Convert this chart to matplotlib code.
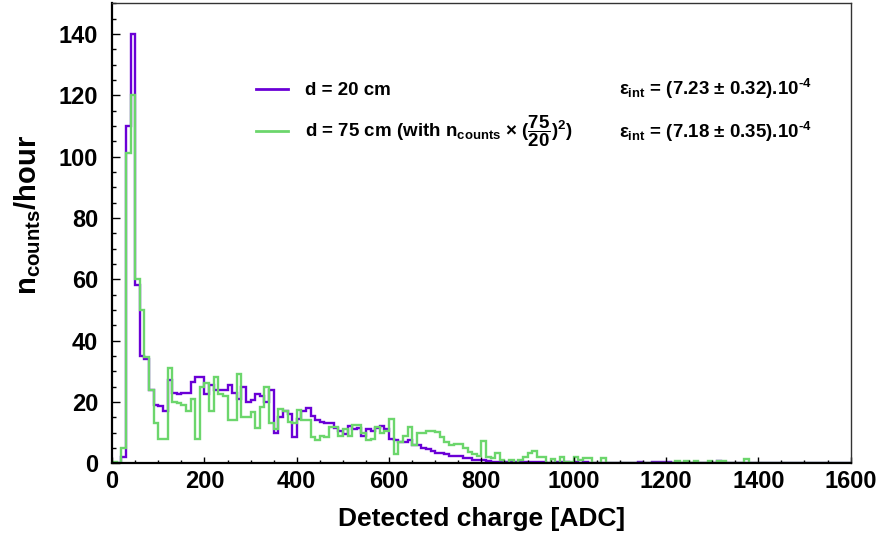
import numpy as np
import matplotlib
matplotlib.use("Agg")
import matplotlib.pyplot as plt
from matplotlib.lines import Line2D
from matplotlib.ticker import MultipleLocator

plt.rcParams['font.family'] = ['Liberation Sans', 'DejaVu Sans']
plt.rcParams['font.weight'] = 'bold'
plt.rcParams['mathtext.fontset'] = 'custom'
plt.rcParams['mathtext.rm'] = 'Liberation Sans:bold'
plt.rcParams['mathtext.bf'] = 'Liberation Sans:bold'
plt.rcParams['mathtext.it'] = 'Liberation Sans:bold'

# histogram binning (ADC)
bin_width = 10
x_min, x_max = 0, 1600

# counts/hour at d = 20 cm
d20 = [0, 0, 2, 110, 140, 58, 35, 34, 24, 19,
       18.5, 17, 27, 23, 22.5, 23, 23, 26.5, 28, 28,
       22.7, 25.4, 24, 24, 24, 25.4, 23, 21, 25, 20,
       20.5, 22.5, 22, 20, 24, 10, 15, 17, 16, 8.5,
       14.5, 17, 18, 15.5, 14, 13.5, 13, 13, 11.5, 10.5,
       9.5, 12, 11, 11.5, 9, 11, 10.5, 11.5, 12, 11,
       8, 7.5, 7, 7, 7.5, 6, 6, 5, 4.5, 4,
       3.2, 3.2, 3, 2.4, 2.3, 2.3, 1.7, 1.7, 1.2, 1.2,
       1, 0.8, 0.5, 0.5, 0.3, 0.3, 0.5, 0.5, 0.5, 0.5,
       0.3, 0.5, 0.5, 0.5, 0, 0, 0.3, 0.5, 0.5, 0,
       0.5, 0, 0.4, 0, 0, 0, 0, 0, 0, 0,
       0, 0, 0, 0, 0.4, 0, 0, 0.4, 0.4, 0.4,
       0.4, 0, 0, 0, 0, 0, 0, 0, 0, 0,
       0, 0.6, 0, 0, 0, 0, 0, 0, 0, 0,
       0, 0, 0, 0, 0, 0, 0, 0, 0, 0,
       0, 0, 0, 0, 0, 0, 0, 0, 0, 0]

# counts/hour at d = 75 cm, scaled by (75/20)^2
d75 = [0.5, 0, 5, 101, 120, 60, 50, 34.5, 24, 13,
       8, 8, 31, 20, 19.5, 19, 17, 21, 8, 25,
       26, 17, 28, 22.5, 22, 14, 14, 29, 15, 15,
       16.7, 11.6, 18.4, 25, 13, 11, 17.8, 17, 13.5, 13,
       17.3, 14, 14, 8.6, 7.7, 9, 8.6, 11.8, 11.8, 9,
       11.3, 9, 12.4, 12.4, 10, 7.5, 8, 11.8, 10, 10.5,
       14.5, 3, 7, 9, 11.8, 5.9, 9.7, 9.7, 10.5, 10.5,
       10.2, 8.6, 7, 5.9, 6.4, 6.4, 5, 3.7, 2.9, 2.2,
       7.3, 2, 1.8, 3.2, 1, 0, 1, 0, 1.2, 2,
       3.2, 4, 2, 2, 0, 1.5, 0, 2, 0.3, 0.3,
       2, 1.2, 1.7, 1.7, 0.2, 0.2, 1.7, 0, 0, 0,
       0, 0, 0, 0, 0, 0, 0, 0, 0, 0,
       0, 0, 0.8, 0, 0.8, 0, 0.8, 0, 0, 0.8,
       0, 0.8, 0.8, 0, 0, 0, 0, 1.5, 0, 0,
       0, 0, 0, 0, 0, 0, 0, 0, 0, 0,
       0, 0, 0, 0, 0, 0, 0, 0, 0, 0]

labels = ["d = 20 cm",
          r"d = 75 cm (with n$_{\mathrm{counts}}$ $\times$ ($\dfrac{75}{20}$)$^{2}$)"]
eff_texts = [r"$\varepsilon_{\mathrm{int}}$ = (7.23 $\pm$ 0.32).10$^{\text{-4}}$",
             r"$\varepsilon_{\mathrm{int}}$ = (7.18 $\pm$ 0.35).10$^{\text{-4}}$"]
colors = ['#6A00D6', '#6CD66C']

edges = np.arange(x_min, x_max + bin_width, bin_width)

fig = plt.figure(figsize=(8.76, 5.38), dpi=100)
ax = fig.add_axes([0.128, 0.139, 0.843, 0.855])

ax.stairs(d20, edges, color=colors[0], lw=1.7, baseline=0)
ax.stairs(d75, edges, color=colors[1], lw=1.7, baseline=0)

ax.set_xlim(x_min, x_max)
ax.set_ylim(0, 150)

ax.xaxis.set_major_locator(MultipleLocator(200))
ax.xaxis.set_minor_locator(MultipleLocator(50))
ax.yaxis.set_major_locator(MultipleLocator(20))
ax.yaxis.set_minor_locator(MultipleLocator(5))
ax.tick_params(axis='x', which='major', direction='in', length=4.5, width=1, labelsize=17, pad=5)
ax.tick_params(axis='x', which='minor', direction='in', length=2.5, width=1)
ax.tick_params(axis='y', which='major', direction='in', length=6, width=1, labelsize=17, pad=10)
ax.tick_params(axis='y', which='minor', direction='in', length=3, width=1)
for lab in ax.get_xticklabels() + ax.get_yticklabels():
    lab.set_fontweight('bold')

for s in ['left', 'bottom']:
    ax.spines[s].set_linewidth(1.6)
for s in ['top', 'right']:
    ax.spines[s].set_linewidth(1.0)
    ax.spines[s].set_color('#333333')

ax.set_xlabel("Detected charge [ADC]", fontsize=19, fontweight='bold', labelpad=10)
ax.set_ylabel(r"n$_{\mathrm{counts}}$/hour", fontsize=21, fontweight='bold')
ax.yaxis.set_label_coords(-0.094, 0.54)

handles = [Line2D([], [], color=c, lw=2) for c in colors]
ax.legend(handles, labels, loc='upper left', bbox_to_anchor=(0.185, 0.845),
          frameon=False, fontsize=13.5, handlelength=1.7, handletextpad=0.9,
          labelspacing=0.75, borderaxespad=0)

text_y = [0.813, 0.72]
for t, yy in zip(eff_texts, text_y):
    ax.text(0.687, yy, t, transform=ax.transAxes, fontsize=13.5,
            fontweight='bold', va='center', ha='left')

fig.savefig("out.png", dpi=100)
